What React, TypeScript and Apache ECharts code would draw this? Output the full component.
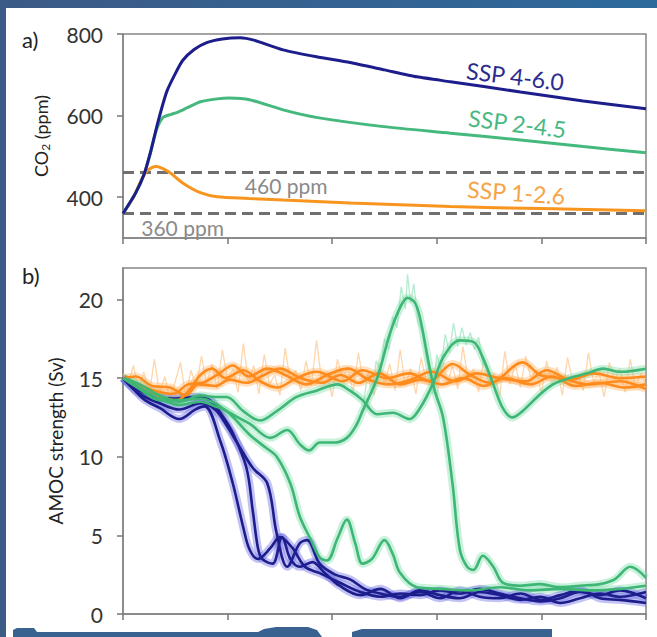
import React, { useEffect, useRef } from "react";
import * as echarts from "echarts";

type Pt = [number, number];

// Time axis (years after start) and tick positions
const timeTicks = [0, 100, 200, 300, 400, 500];
const co2Ticks = [400, 600, 800];
const amocTicks = [0, 5, 10, 15, 20];

// Panel a: atmospheric CO2 pathways (ppm)
const co2Ssp460: Pt[] = [
  [0, 360], [12, 410], [20, 455], [26, 508], [34, 590], [42, 660], [50, 703], [57, 735],
  [68, 762], [80, 779], [95, 788], [112, 791], [125, 785], [153, 761], [185, 744],
  [217, 730], [250, 712], [281, 695], [313, 683], [380, 658], [440, 636], [500, 617],
];
const co2Ssp245: Pt[] = [
  [0, 360], [12, 410], [20, 455], [26, 505], [32, 565], [38, 595], [46, 603], [52, 608],
  [62, 620], [74, 634], [90, 641], [102, 643], [121, 639], [153, 614], [186, 595],
  [249, 573], [313, 557], [380, 540], [440, 524], [500, 509],
];
const co2Ssp126: Pt[] = [
  [0, 360], [10, 400], [17, 440], [22, 462], [28, 473], [32, 475], [38, 470], [45, 460],
  [57, 435], [74, 411], [90, 401], [120, 397], [153, 393], [217, 386], [313, 377],
  [400, 372], [500, 367],
];
const co2Thresholds = [460, 360];

// Panel b: AMOC strength (Sv), three smoothed runs per scenario
const amocSsp126: Pt[][] = [
  [
    [0, 15.0], [19, 14.3], [35, 13.8], [52, 13.6], [64, 14.3], [74, 15.2], [85, 15.6], [98, 15.0],
    [115, 15.5], [131, 14.8], [147, 14.4], [166, 15.0], [185, 15.4], [210, 14.8], [229, 15.5],
    [252, 15.0], [274, 15.3], [293, 14.8], [315, 15.9], [332, 15.2], [351, 14.7], [382, 16.0],
    [399, 15.2], [418, 15.0], [446, 14.6], [475, 14.8], [500, 14.3],
  ],
  [
    [0, 15.0], [15, 14.6], [30, 14.2], [48, 14.0], [62, 14.6], [76, 14.7], [90, 15.2], [105, 15.8],
    [120, 15.1], [138, 15.6], [155, 15.2], [175, 14.6], [195, 15.2], [215, 15.6], [235, 14.9],
    [255, 14.6], [275, 14.9], [295, 15.4], [318, 14.8], [338, 15.3], [360, 15.0], [385, 14.8],
    [405, 15.5], [428, 14.9], [450, 15.3], [475, 15.0], [500, 15.1],
  ],
  [
    [0, 15.0], [12, 15.1], [28, 14.5], [45, 14.4], [60, 13.9], [72, 14.6], [88, 14.5], [102, 14.9],
    [118, 14.7], [135, 15.2], [150, 15.6], [170, 15.0], [190, 14.7], [208, 15.2], [225, 14.7],
    [245, 15.3], [265, 14.6], [285, 14.9], [305, 14.6], [325, 15.0], [345, 14.5], [365, 15.0],
    [390, 14.6], [410, 15.1], [432, 14.5], [455, 14.7], [480, 14.4], [500, 14.6],
  ],
];

const amocSsp460: Pt[][] = [
  [
    [0, 15.0], [10, 14.3], [21, 13.6], [35, 13.1], [54, 12.4], [69, 13.0], [78, 13.2], [93, 11.0],
    [105, 8.3], [115, 5.5], [121, 4.1], [129, 3.5], [141, 4.2], [150, 4.9], [162, 4.2], [174, 3.0],
    [188, 2.6], [207, 2.0], [227, 1.4], [246, 1.1], [265, 1.3], [284, 1.2], [303, 1.5], [322, 1.3],
    [341, 1.6], [360, 1.3], [380, 1.0], [399, 0.8], [418, 1.0], [437, 1.4], [456, 1.2], [475, 1.5],
    [500, 1.0],
  ],
  [
    [0, 15.0], [16, 14.2], [31, 13.8], [50, 13.7], [69, 13.8], [83, 13.6], [95, 12.6], [105, 11.5],
    [118, 9.3], [124, 6.6], [129, 4.2], [133, 3.5], [143, 3.2], [152, 4.9], [160, 3.5], [169, 3.0],
    [181, 3.3], [193, 2.6], [207, 1.8], [227, 1.2], [246, 1.6], [265, 1.0], [284, 1.5], [303, 1.2],
    [322, 1.0], [341, 1.4], [360, 1.2], [380, 0.9], [399, 1.1], [418, 0.7], [437, 1.0], [456, 1.3],
    [475, 1.1], [500, 1.4],
  ],
  [
    [0, 15.0], [16, 14.0], [35, 13.4], [54, 13.0], [74, 13.4], [88, 13.0], [99, 12.0], [109, 10.9],
    [124, 9.3], [138, 8.3], [147, 5.1], [157, 3.0], [169, 4.5], [176, 4.7], [188, 3.2], [203, 2.5],
    [217, 2.2], [231, 1.6], [246, 1.3], [265, 1.1], [284, 1.4], [303, 1.0], [322, 1.5], [341, 1.1],
    [360, 1.0], [380, 1.3], [399, 0.9], [418, 1.2], [437, 1.5], [456, 1.0], [475, 0.9], [500, 0.7],
  ],
];

const amocSsp245: Pt[][] = [
  [
    [0, 15.0], [16, 14.6], [35, 13.9], [54, 13.5], [74, 13.9], [88, 13.8], [99, 13.8], [115, 12.9],
    [131, 12.3], [147, 12.9], [166, 13.8], [185, 14.2], [205, 14.6], [217, 14.2], [229, 13.6],
    [243, 12.7], [258, 12.8], [274, 12.4], [284, 13.1], [296, 14.6], [306, 16.3], [322, 17.4],
    [335, 17.3], [344, 16.3], [354, 14.6], [363, 13.1], [372, 12.5], [382, 12.9], [396, 13.8],
    [411, 14.6], [427, 15.0], [444, 15.3], [459, 15.6], [475, 15.4], [500, 15.6],
  ],
  [
    [0, 15.0], [16, 14.3], [35, 13.6], [54, 13.6], [74, 13.7], [88, 13.4], [99, 12.9], [121, 12.1],
    [141, 11.2], [157, 11.7], [169, 10.8], [178, 10.4], [188, 10.9], [202, 10.9], [214, 11.2],
    [223, 12.0], [229, 12.9], [243, 15.0], [255, 17.8], [265, 19.5], [272, 20.1], [279, 19.8],
    [284, 18.8], [293, 15.7], [298, 14.2], [306, 12.5], [315, 8.3], [322, 4.1], [329, 3.0],
    [335, 2.8], [344, 3.7], [354, 3.0], [363, 2.0], [380, 1.8], [399, 1.9], [418, 1.7], [437, 1.8],
    [456, 1.9], [470, 2.2], [485, 3.0], [500, 2.3],
  ],
  [
    [0, 15.0], [16, 14.4], [35, 13.7], [54, 13.3], [74, 13.5], [88, 13.2], [99, 12.9], [121, 11.4],
    [136, 10.6], [147, 10.0], [160, 8.3], [169, 6.2], [179, 4.8], [188, 3.6], [195, 3.4], [205, 4.8],
    [214, 6.0], [222, 4.5], [229, 3.2], [238, 3.5], [250, 4.7], [258, 3.8], [265, 2.6], [281, 1.7],
    [303, 1.6], [332, 1.5], [360, 1.7], [389, 1.5], [418, 1.6], [446, 1.5], [475, 1.6], [500, 1.8],
  ],
];

// Unsmoothed annual output behind the smoothed runs (pale spiky traces)
const rawSsp126: number[] = [
  15.3, 14.6, 15.8, 14.2, 15.4, 13.9, 16.2, 14.0, 15.1, 13.6, 14.8, 16.0, 13.8, 15.5, 14.4, 16.4,
  14.6, 15.9, 14.3, 16.8, 14.9, 15.6, 14.1, 17.2, 14.7, 15.8, 14.0, 16.5, 14.6, 15.2, 13.9, 16.9,
  14.8, 15.5, 14.2, 16.1, 14.5, 17.4, 14.8, 15.3, 13.8, 16.2, 14.9, 15.7, 14.1, 16.6, 14.7, 15.4,
  13.9, 16.0, 14.6, 15.9, 14.2, 16.8, 14.5, 15.6, 14.0, 16.3, 14.8, 15.1, 13.7, 16.5, 14.6, 15.8,
  14.3, 17.0, 14.9, 15.6, 14.1, 16.2, 14.7, 15.3, 13.8, 16.7, 14.6, 15.9, 14.4, 16.4, 15.0, 15.5,
  14.0, 16.1, 14.5, 15.7, 13.9, 16.3, 14.8, 15.2, 14.2, 16.6, 14.7, 15.4, 13.8, 16.0, 14.9, 15.6,
  14.1, 16.2, 14.4, 15.3, 14.6,
];
const rawSsp126Step = 5;

const rawSsp245Spike: Pt[] = [
  [230, 13.5], [234, 15.2], [238, 14.0], [242, 16.1], [246, 15.4], [250, 17.5], [254, 16.8],
  [258, 18.9], [262, 18.2], [266, 20.8], [270, 19.4], [272, 21.6], [275, 19.8], [278, 21.0],
  [282, 18.6], [286, 17.9], [290, 16.2], [294, 15.0],
];
const rawSsp245Bump: Pt[] = [
  [296, 14.0], [300, 16.5], [304, 15.5], [308, 17.8], [312, 16.6], [316, 18.5], [320, 17.0],
  [324, 18.2], [328, 17.1], [332, 17.9], [336, 16.8], [340, 17.6], [344, 15.9], [348, 15.6],
];

const NAVY = "#1d1d8c";
const GREEN = "#3db676";
const ORANGE = "#ff8b1c";
const CO2_ORANGE = "#f7951f";
const FONT = "Lato";

function amocSeries(runs: Pt[][], color: string, halo: string, name: string) {
  const halos = runs.map((d, i) => ({
    name: `${name} spread ${i + 1}`,
    type: "line",
    xAxisIndex: 1,
    yAxisIndex: 1,
    data: d,
    smooth: 0.35,
    symbol: "none",
    silent: true,
    lineStyle: { color: halo, width: 8 },
    z: 1,
  }));
  const lines = runs.map((d, i) => ({
    name: `${name} run ${i + 1}`,
    type: "line",
    xAxisIndex: 1,
    yAxisIndex: 1,
    data: d,
    smooth: 0.35,
    symbol: "none",
    lineStyle: { color, width: 2.6 },
    z: 3,
  }));
  return { halos, lines };
}

function rawSeries(name: string, data: Pt[], color: string) {
  return {
    name,
    type: "line",
    xAxisIndex: 1,
    yAxisIndex: 1,
    data,
    symbol: "none",
    silent: true,
    lineStyle: { color, width: 1.3 },
    z: 1,
  };
}

function annotation(x: number, y: number, text: string, color: string, rotate: number, size: number) {
  return {
    coord: [x, y],
    value: text,
    symbolSize: 0,
    label: {
      show: true,
      position: "inside",
      formatter: text,
      color,
      fontSize: size,
      fontFamily: FONT,
      rotate,
    },
  };
}

export default function App() {
  const ref = useRef<HTMLDivElement>(null);

  useEffect(() => {
    if (!ref.current) return;
    const chart = echarts.init(ref.current, null, { renderer: "svg" });

    const axisLine = { show: true, lineStyle: { color: "#858585", width: 1.5 } };
    const xAxisBase = {
      type: "value",
      min: 0,
      max: 500,
      axisLine,
      axisTick: { show: true, length: 6, customValues: timeTicks, lineStyle: { color: "#777", width: 1.5 } },
      axisLabel: { show: false },
      splitLine: { show: false },
    };
    const labelStyle = { color: "#333", fontSize: 21, fontFamily: FONT, margin: 20 };

    const o = amocSeries(amocSsp126, ORANGE, "rgba(255,170,80,0.35)", "SSP 1-2.6");
    const b = amocSeries(amocSsp460, NAVY, "rgba(95,95,225,0.38)", "SSP 4-6.0");
    const g = amocSeries(amocSsp245, GREEN, "rgba(120,220,165,0.4)", "SSP 2-4.5");

    const rawOrange: Pt[] = rawSsp126.map((v, i) => [i * rawSsp126Step, v]);

    chart.setOption({
      animation: false,
      backgroundColor: "#ffffff",
      textStyle: { fontFamily: FONT },
      grid: [
        { left: 123, top: 34, width: 523, height: 204, show: true, borderColor: "#858585", borderWidth: 1.5 },
        { left: 123, top: 268, width: 523, height: 346, show: true, borderColor: "#858585", borderWidth: 1.5 },
      ],
      xAxis: [
        { ...xAxisBase, gridIndex: 0 },
        { ...xAxisBase, gridIndex: 1 },
      ],
      yAxis: [
        {
          type: "value",
          gridIndex: 0,
          min: 300,
          max: 800,
          axisLine,
          axisTick: { show: true, length: 6, customValues: co2Ticks, lineStyle: { color: "#777", width: 1.5 } },
          axisLabel: { ...labelStyle, customValues: co2Ticks },
          splitLine: { show: false },
          name: "CO{sub|2} (ppm)",
          nameLocation: "middle",
          nameRotate: 90,
          nameGap: 72,
          nameTextStyle: {
            color: "#222",
            fontSize: 18,
            fontFamily: FONT,
            rich: { sub: { fontSize: 12, fontFamily: FONT, color: "#222", verticalAlign: "bottom", padding: [8, 0, 0, 0] } },
          },
        },
        {
          type: "value",
          gridIndex: 1,
          min: 0,
          max: 22,
          axisLine,
          axisTick: { show: true, length: 6, customValues: amocTicks, lineStyle: { color: "#777", width: 1.5 } },
          axisLabel: { ...labelStyle, customValues: amocTicks },
          splitLine: { show: false },
          name: "AMOC strength (Sv)",
          nameLocation: "middle",
          nameRotate: 90,
          nameGap: 58,
          nameTextStyle: { color: "#222", fontSize: 19, fontFamily: FONT },
        },
      ],
      series: [
        {
          name: "SSP 1-2.6 CO2",
          type: "line",
          xAxisIndex: 0,
          yAxisIndex: 0,
          data: co2Ssp126,
          smooth: 0.3,
          symbol: "none",
          lineStyle: { color: CO2_ORANGE, width: 3 },
          z: 3,
          markLine: {
            silent: true,
            symbol: ["none", "none"],
            label: { show: false },
            lineStyle: { color: "#6f6f6f", width: 3, type: [11, 6] },
            data: co2Thresholds.map((v) => ({ yAxis: v })),
            z: 2,
          },
          markPoint: {
            silent: true,
            data: [
              annotation(156, 428, "460 ppm", "#8a8a8a", 0, 21),
              annotation(57, 325, "360 ppm", "#8a8a8a", 0, 21),
              annotation(376, 412, "SSP 1-2.6", "#f7a448", -4, 23),
              annotation(377, 581, "SSP 2-4.5", "#49b982", -7, 23),
              annotation(375, 697, "SSP 4-6.0", "#2b2b8e", -7, 23),
            ],
          },
        },
        {
          name: "SSP 2-4.5 CO2",
          type: "line",
          xAxisIndex: 0,
          yAxisIndex: 0,
          data: co2Ssp245,
          smooth: 0.25,
          symbol: "none",
          lineStyle: { color: "#45b97d", width: 3 },
          z: 3,
        },
        {
          name: "SSP 4-6.0 CO2",
          type: "line",
          xAxisIndex: 0,
          yAxisIndex: 0,
          data: co2Ssp460,
          smooth: 0.2,
          symbol: "none",
          lineStyle: { color: NAVY, width: 3 },
          z: 3,
        },
        rawSeries("SSP 1-2.6 annual", rawOrange, "rgba(255,165,70,0.45)"),
        rawSeries("SSP 2-4.5 annual (a)", rawSsp245Spike, "rgba(110,215,160,0.5)"),
        rawSeries("SSP 2-4.5 annual (b)", rawSsp245Bump, "rgba(110,215,160,0.5)"),
        ...o.halos,
        ...g.halos,
        ...b.halos,
        ...b.lines,
        ...o.lines,
        ...g.lines,
      ],
      graphic: [
        {
          type: "rect",
          shape: { x: 0, y: 0, width: 657, height: 8 },
          style: {
            fill: new echarts.graphic.LinearGradient(0, 0, 1, 0, [
              { offset: 0, color: "#3d5a86" },
              { offset: 1, color: "#2c6a9c" },
            ]),
          },
          z: 100,
        },
        { type: "rect", shape: { x: 0, y: 0, width: 6, height: 637 }, style: { fill: "#3c5b87" }, z: 100 },
        {
          type: "polygon",
          shape: {
            points: [
              [13, 637], [13, 630], [17, 628], [34, 628], [37, 632], [258, 632], [264, 629], [276, 627],
              [308, 627], [317, 630], [322, 637],
            ],
          },
          style: { fill: "#3a6290" },
          z: 100,
        },
        {
          type: "polygon",
          shape: { points: [[352, 637], [352, 632], [362, 629], [552, 629], [552, 637]] },
          style: { fill: "#3a6290" },
          z: 100,
        },
        { type: "text", left: 22, top: 28, style: { text: "a)", fontSize: 22, fontFamily: FONT, fill: "#222" }, z: 100 },
        { type: "text", left: 22, top: 264, style: { text: "b)", fontSize: 22, fontFamily: FONT, fill: "#222" }, z: 100 },
      ],
    });

    return () => chart.dispose();
  }, []);

  return (
    <div
      ref={ref}
      style={{ position: "absolute", left: 0, top: 0, width: 657, height: 637 }}
    />
  );
}
